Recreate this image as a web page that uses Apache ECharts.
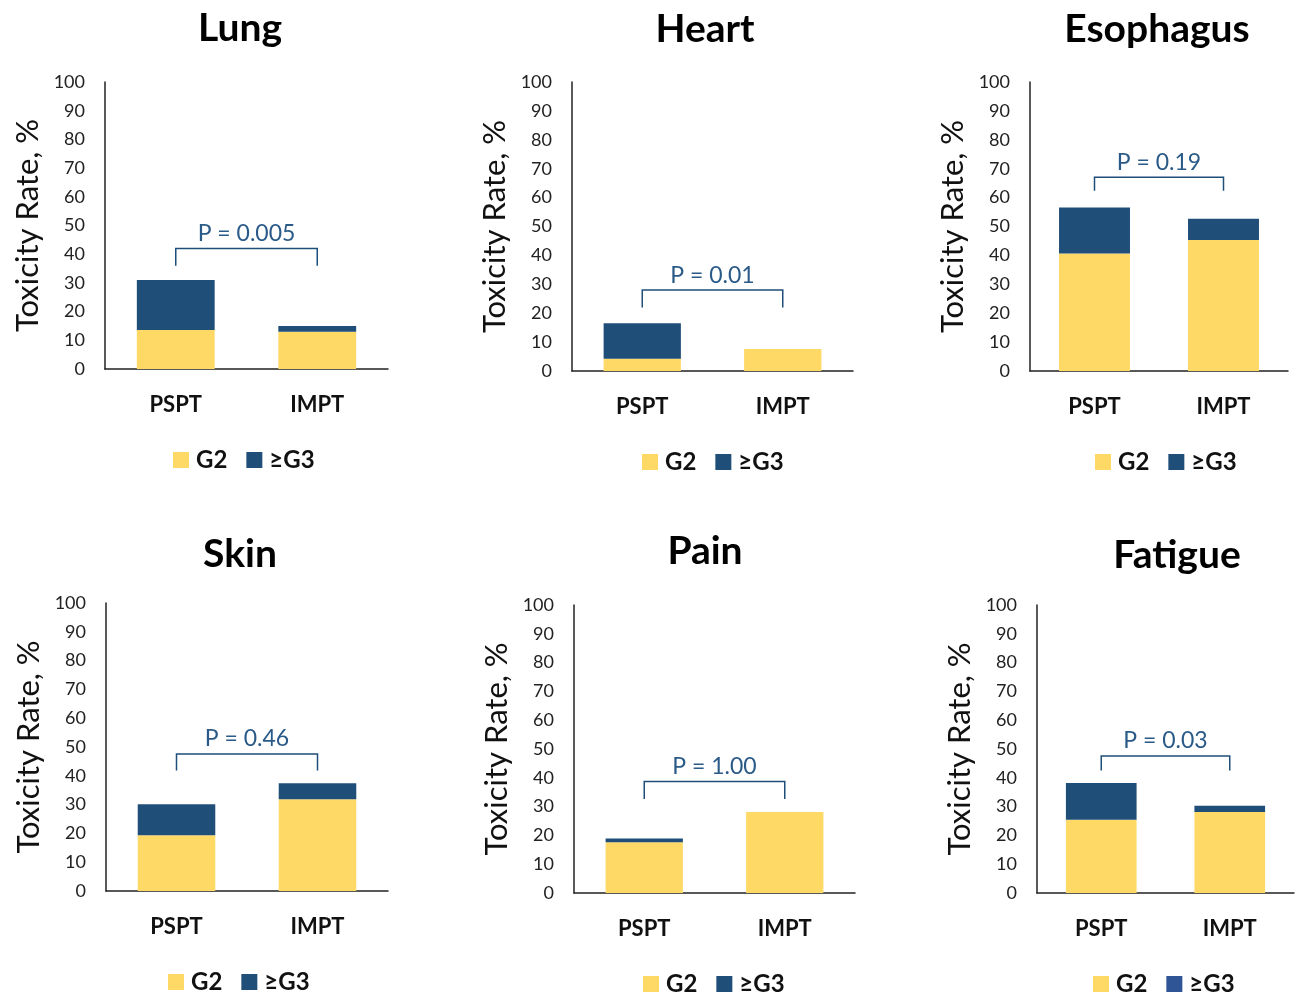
<!DOCTYPE html>
<html>
<head>
<meta charset="utf-8">
<style>
  html, body { margin: 0; padding: 0; background: #fff; }
  #main { width: 1296px; height: 998px; }
</style>
<script src="https://cdn.jsdelivr.net/npm/echarts@6/dist/echarts.min.js"></script>
</head>
<body>
<div id="main"></div>
<script>
// data (toxicity rate, %)
const organs = ['Lung', 'Heart', 'Esophagus', 'Skin', 'Pain', 'Fatigue'];
const categories = ['PSPT', 'IMPT'];
const g2Values = [[13.6, 13.0], [4.2, 7.6], [40.7, 45.3], [19.4, 31.9], [17.6, 28.1], [25.4, 28.1]];
const g3Values = [[17.4, 2.0], [12.3, 0], [15.9, 7.4], [10.7, 5.5], [1.3, 0], [12.8, 2.2]];
const pLabels = ['P = 0.005', 'P = 0.01', 'P = 0.19', 'P = 0.46', 'P = 1.00', 'P = 0.03'];
const bracketTop = [42, 28, 67, 47.6, 38.7, 47.6];
const bracketFoot = [36, 22, 62.4, 41.8, 32.6, 42.5];
const yMin = 0, yMax = 100, yStep = 10;

// panel layout (pixels)
const panels = [
  { left: 105, top: 82, width: 283, height: 287, titleX: 240, titleY: 27, legendX: 173 },
  { left: 572, top: 82, width: 281, height: 289, titleX: 705, titleY: 28, legendX: 642 },
  { left: 1030, top: 82, width: 258, height: 289, titleX: 1157, titleY: 28, legendX: 1095 },
  { left: 106, top: 603, width: 282, height: 288, titleX: 240, titleY: 553, legendX: 168 },
  { left: 574, top: 605, width: 281, height: 288, titleX: 705, titleY: 550, legendX: 643 },
  { left: 1037, top: 605, width: 257, height: 288, titleX: 1177, titleY: 554, legendX: 1093 }
];

const yellow = '#FFD966';
const navy = '#1F4E79';
const font = 'Lato, "Open Sans", sans-serif';

const myChart = echarts.init(document.getElementById('main'));

const grid = [], xAxis = [], yAxis = [], series = [], title = [], legend = [];

panels.forEach((p, i) => {
  grid.push({ left: p.left, top: p.top, width: p.width, height: p.height });
  // title and legend boxes carry 5px padding, hence the -5
  title.push({
    text: organs[i],
    left: p.titleX - 5, top: p.titleY - 23, textAlign: 'center',
    textStyle: { fontFamily: font, fontWeight: 'bold', fontSize: 39, color: '#000' }
  });
  legend.push({
    left: p.legendX - 5, top: p.top + p.height + 74,
    icon: 'rect', itemWidth: 16, itemHeight: 16, itemGap: 19,
    selectedMode: false,
    textStyle: { fontFamily: font, fontWeight: 'bold', fontSize: 24, color: '#111', padding: [0, 0, 0, 2] },
    data: [
      { name: 'G2' },
      { name: '≥G3', itemStyle: { color: i === 5 ? '#2F5597' : navy } }
    ]
  });
  xAxis.push({
    gridIndex: i, type: 'category', data: categories,
    axisLine: { lineStyle: { color: '#222', width: 1.5 } },
    axisTick: { show: false },
    axisLabel: { margin: 25, fontFamily: font, fontWeight: 'bold', fontSize: 22, color: '#111' }
  });
  yAxis.push({
    gridIndex: i, type: 'value', min: yMin, max: yMax, interval: yStep,
    name: 'Toxicity Rate, %', nameLocation: 'middle', nameGap: 62,
    nameTextStyle: { fontFamily: font, fontSize: 31, color: '#111' },
    axisLine: { show: true, lineStyle: { color: '#222', width: 1.5 } },
    axisTick: { show: false },
    splitLine: { show: false },
    axisLabel: { margin: 20, fontFamily: font, fontSize: 18, color: '#222' }
  });
  series.push({
    name: 'G2', type: 'bar', stack: 'tox' + i, xAxisIndex: i, yAxisIndex: i,
    barWidth: '55%', itemStyle: { color: yellow }, data: g2Values[i]
  });
  series.push({
    name: '≥G3', type: 'bar', stack: 'tox' + i, xAxisIndex: i, yAxisIndex: i,
    barWidth: '55%', itemStyle: { color: navy }, data: g3Values[i]
  });
  // significance bracket between the two bars
  series.push({
    type: 'custom', xAxisIndex: i, yAxisIndex: i, silent: true,
    encode: { x: [0, 1], y: [2, 3] },
    data: [[0, 1, bracketTop[i], bracketFoot[i]]],
    renderItem: function (params, api) {
      const a = api.coord([api.value(0), api.value(3)]);
      const b = api.coord([api.value(0), api.value(2)]);
      const c = api.coord([api.value(1), api.value(2)]);
      const d = api.coord([api.value(1), api.value(3)]);
      return {
        type: 'group',
        children: [{
          type: 'polyline',
          shape: { points: [a, b, c, d] },
          style: { stroke: navy, lineWidth: 1.5, fill: null }
        }, {
          type: 'text',
          x: (b[0] + c[0]) / 2, y: b[1] - 15,
          style: {
            text: pLabels[i], fill: '#2A5A88',
            font: '23px ' + font, align: 'center', verticalAlign: 'middle'
          }
        }]
      };
    }
  });
});

myChart.setOption({
  animation: false,
  backgroundColor: '#fff',
  title: title,
  legend: legend,
  grid: grid,
  xAxis: xAxis,
  yAxis: yAxis,
  series: series
});
</script>
</body>
</html>
